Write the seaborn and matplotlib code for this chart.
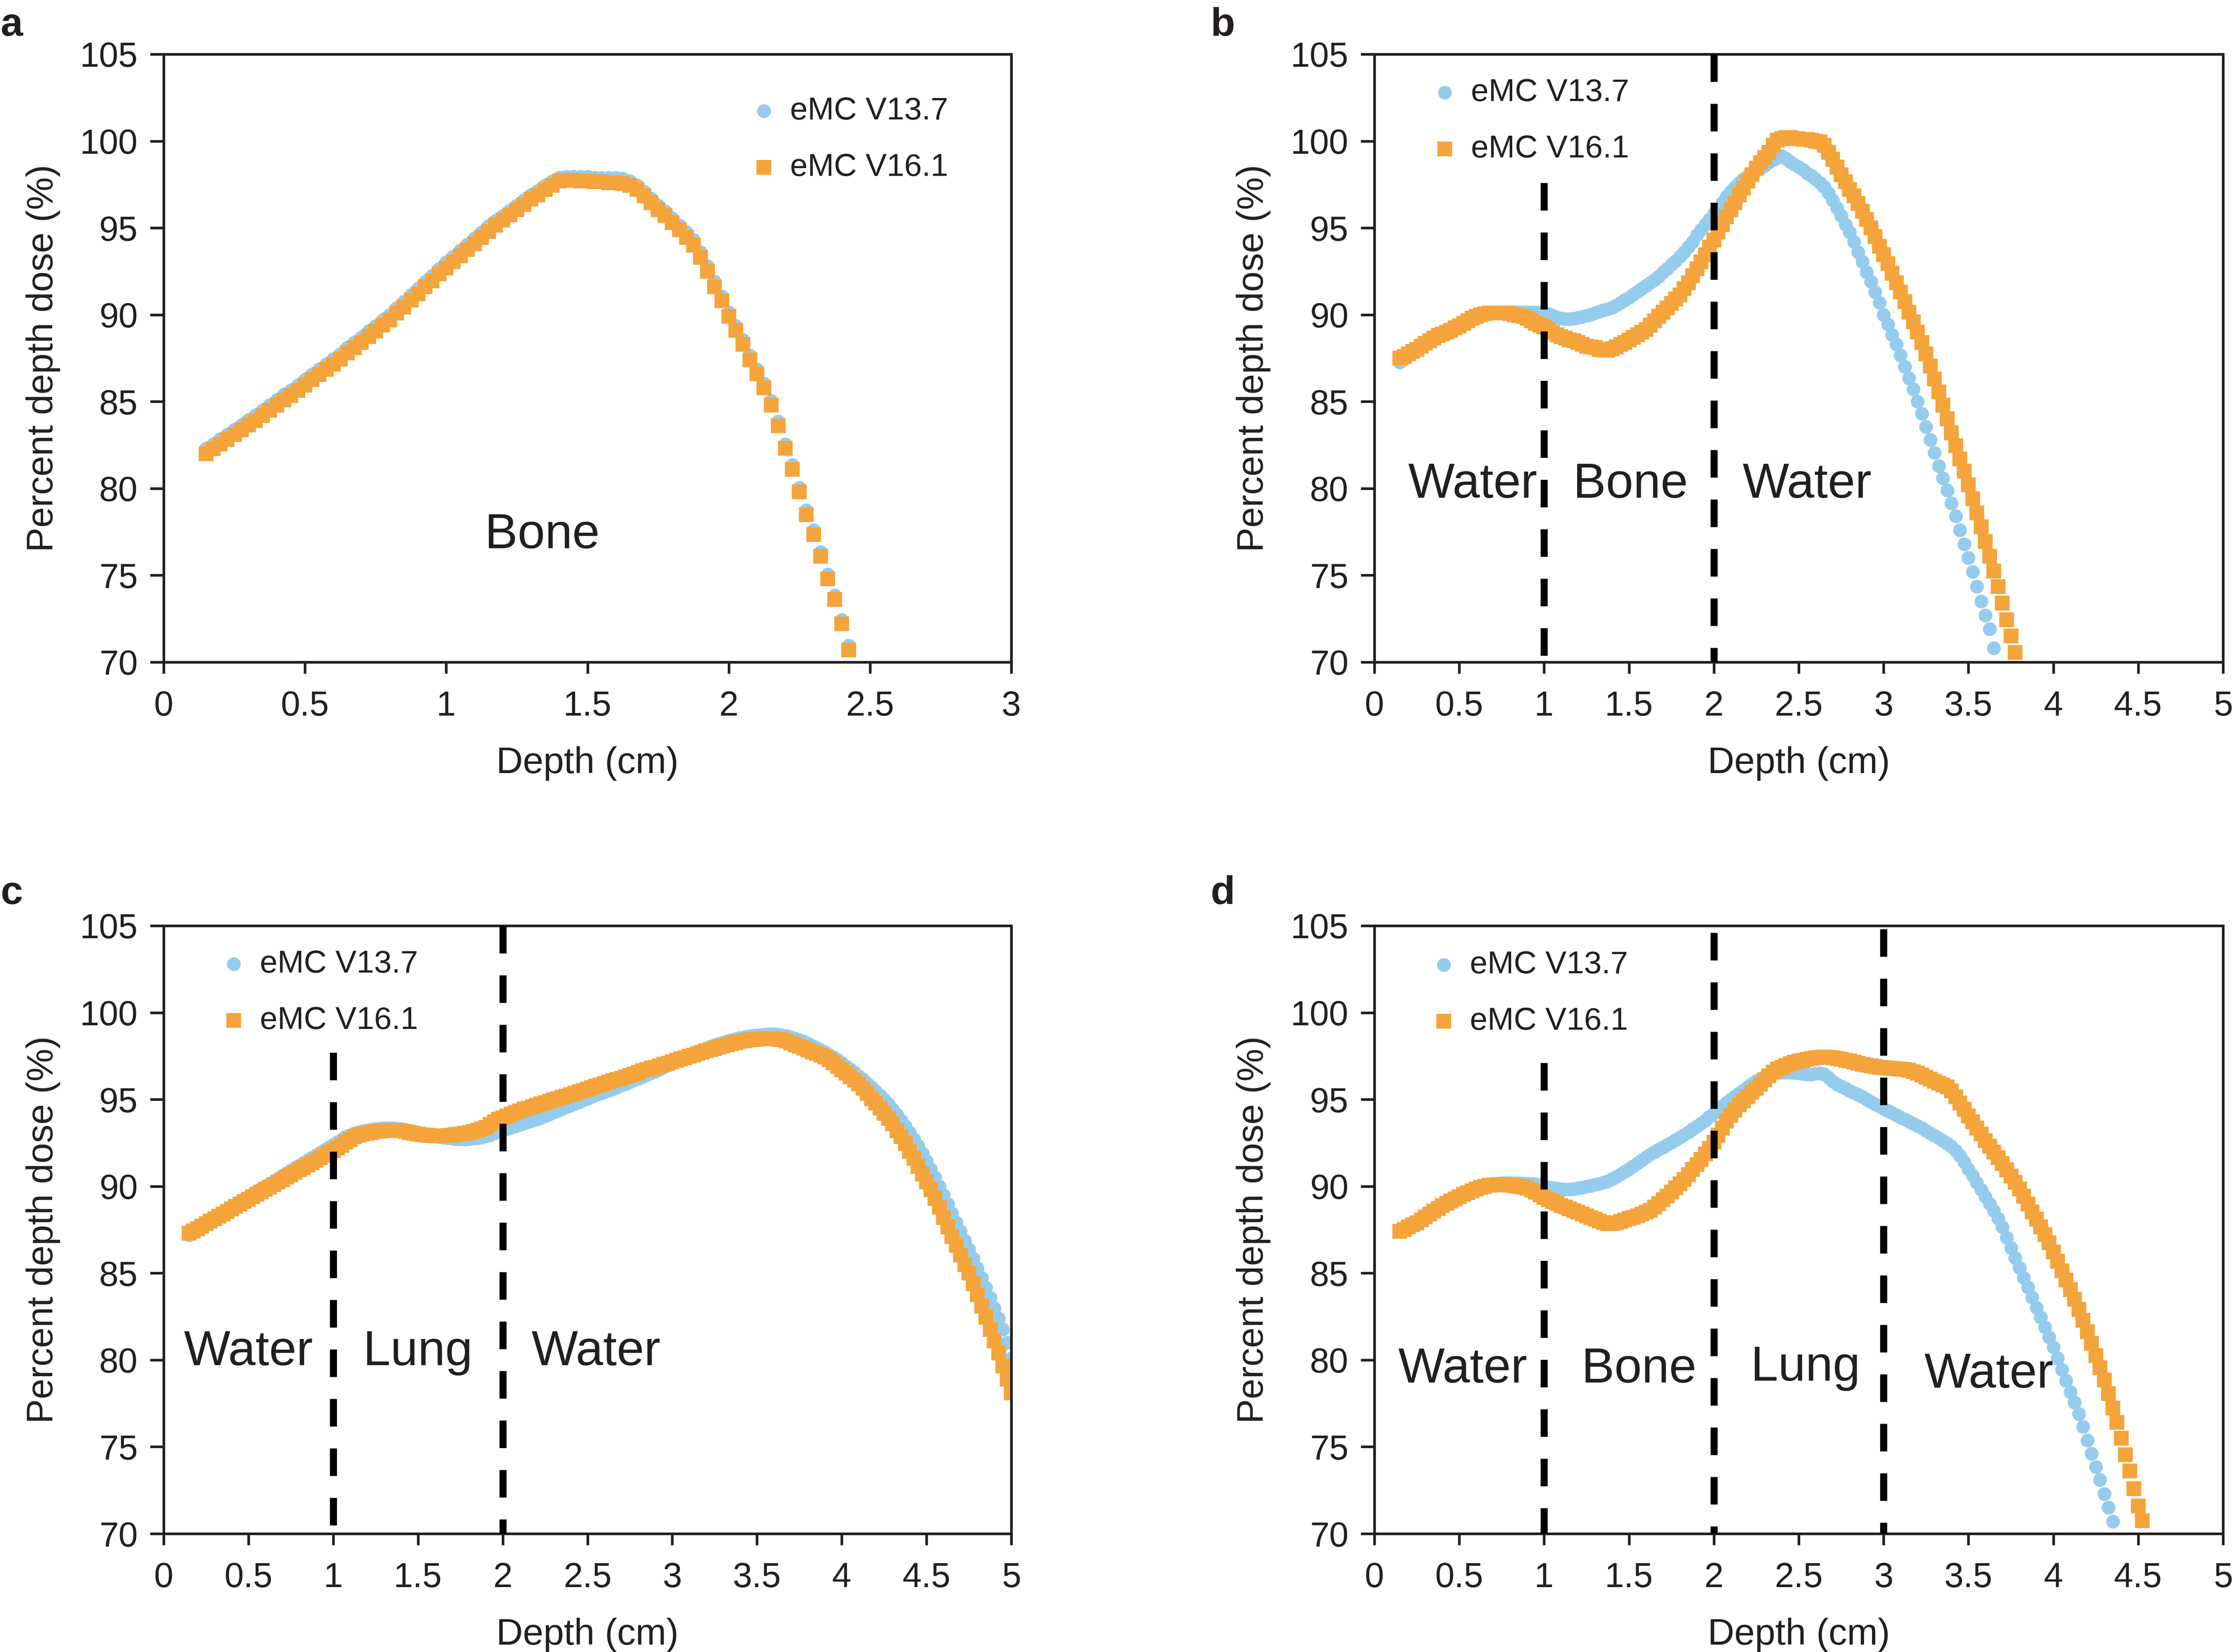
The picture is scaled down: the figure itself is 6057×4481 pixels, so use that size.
import numpy as np
import seaborn as sns
import matplotlib.pyplot as plt
from matplotlib.ticker import MultipleLocator, FuncFormatter

# depth grid (cm): every curve starts at 0.15 cm with 0.025 cm spacing
START = 0.15
STEP = 0.025

# ---- panel a : bone ----
a_v137 = [82.3, 82.55, 82.85, 83.1, 83.4, 83.65, 83.95, 84.2, 84.5, 84.8,
          85.1, 85.4, 85.65, 85.95, 86.25, 86.55, 86.85, 87.15, 87.45, 87.75,
          88.1, 88.4, 88.7, 89.05, 89.35, 89.7, 90.0, 90.4, 90.75, 91.15,
          91.5, 91.9, 92.25, 92.65, 93.0, 93.35, 93.7, 94.05, 94.4, 94.75,
          95.1, 95.4, 95.7, 96.0, 96.3, 96.6, 96.9, 97.15, 97.45, 97.7,
          97.9, 97.95, 97.95, 97.95, 97.95, 97.9, 97.9, 97.9, 97.9, 97.85,
          97.7, 97.45, 97.1, 96.7, 96.3, 95.95, 95.55, 95.15, 94.75, 94.3,
          93.6, 92.8, 91.9, 91.05, 90.15, 89.35, 88.55, 87.65, 86.85, 86.05,
          85.05, 83.85, 82.55, 81.35, 80.05, 78.75, 77.6, 76.35, 75.05, 73.85,
          72.45, 70.95]
a_v161 = [82.0, 82.28, 82.55, 82.83, 83.1, 83.38, 83.65, 83.9, 84.2, 84.5,
          84.8, 85.1, 85.35, 85.65, 85.95, 86.25, 86.55, 86.85, 87.15, 87.45,
          87.8, 88.1, 88.4, 88.75, 89.05, 89.4, 89.7, 90.1, 90.45, 90.85,
          91.2, 91.6, 91.95, 92.35, 92.7, 93.05, 93.4, 93.75, 94.1, 94.45,
          94.8, 95.15, 95.45, 95.75, 96.05, 96.35, 96.65, 96.9, 97.2, 97.45,
          97.7, 97.75, 97.75, 97.7, 97.7, 97.65, 97.65, 97.6, 97.6, 97.55,
          97.45, 97.2, 96.85, 96.45, 96.05, 95.7, 95.3, 94.9, 94.45, 94.0,
          93.3, 92.5, 91.6, 90.8, 89.9, 89.1, 88.3, 87.4, 86.6, 85.8,
          84.8, 83.6, 82.3, 81.1, 79.8, 78.5, 77.35, 76.1, 74.8, 73.6,
          72.2, 70.7]

# ---- panel b : water / bone / water ----
b_v137 = [87.25, 87.45, 87.7, 87.9, 88.05, 88.2, 88.35, 88.5, 88.65, 88.8,
          88.9, 89.0, 89.1, 89.25, 89.4, 89.5, 89.65, 89.8, 89.9, 90.0,
          90.1, 90.15, 90.15, 90.15, 90.15, 90.15, 90.15, 90.15, 90.15, 90.15,
          90.15, 90.15, 90.15, 90.15, 90.15, 90.05, 89.95, 89.85, 89.8, 89.75,
          89.75, 89.78, 89.83, 89.88, 89.95, 90.02, 90.1, 90.18, 90.26, 90.34,
          90.42, 90.55, 90.7, 90.85, 91.0, 91.17, 91.34, 91.51, 91.68, 91.83,
          92.0, 92.2, 92.45, 92.65, 92.9, 93.1, 93.35, 93.6, 93.9, 94.2,
          94.6, 94.9, 95.2, 95.5, 95.8, 96.1, 96.45, 96.8, 97.1, 97.35,
          97.6, 97.8, 98.0, 98.15, 98.3, 98.45, 98.6, 98.75, 98.9, 99.05,
          99.15, 99.0, 98.8, 98.65, 98.5, 98.35, 98.15, 98.0, 97.8, 97.6,
          97.35, 97.0, 96.6, 96.15, 95.7, 95.2, 94.75, 94.2, 93.6, 93.05,
          92.45, 91.9, 91.3, 90.7, 90.0, 89.45, 88.85, 88.3, 87.65, 87.0,
          86.35, 85.7, 85.0, 84.3, 83.55, 82.8, 82.05, 81.3, 80.6, 79.9,
          79.15, 78.4, 77.6, 76.8, 76.0, 75.2, 74.35, 73.5, 72.7, 71.9,
          70.8]
b_v161 = [87.5, 87.6, 87.75, 87.9, 88.0, 88.2, 88.35, 88.5, 88.65, 88.8,
          88.9, 89.0, 89.1, 89.25, 89.35, 89.5, 89.65, 89.8, 89.9, 90.0,
          90.05, 90.1, 90.1, 90.1, 90.1, 90.1, 90.05, 90.0, 89.95, 89.9,
          89.8, 89.65, 89.5, 89.4, 89.3, 89.15, 89.0, 88.85, 88.75, 88.65,
          88.55, 88.5, 88.4, 88.3, 88.2, 88.15, 88.1, 88.0, 87.95, 87.95,
          88.05, 88.15, 88.3, 88.4, 88.55, 88.7, 88.85, 89.0, 89.15, 89.4,
          89.65, 89.9, 90.15, 90.4, 90.65, 90.9, 91.15, 91.5, 91.85, 92.25,
          92.65, 93.05, 93.45, 93.9, 94.3, 94.75, 95.2, 95.65, 96.05, 96.45,
          96.9, 97.3, 97.7, 98.05, 98.45, 98.75, 99.05, 99.35, 99.75, 100.05,
          100.15, 100.2, 100.2, 100.15, 100.15, 100.1, 100.1, 100.05, 100.0, 99.95,
          99.75, 99.35, 98.95, 98.5, 98.05, 97.65, 97.2, 96.85, 96.4, 95.95,
          95.5, 95.0, 94.5, 93.95, 93.45, 92.95, 92.4, 91.85, 91.3, 90.75,
          90.15, 89.6, 89.0, 88.4, 87.75, 87.05, 86.3, 85.55, 84.8, 84.0,
          83.2, 82.45, 81.7, 81.0, 80.2, 79.4, 78.6, 77.8, 76.95, 76.1,
          75.25, 74.35, 73.4, 72.45, 71.5, 70.55]

# ---- panel c : water / lung / water ----
c_v137 = [87.2, 87.4, 87.58, 87.74, 87.9, 88.05, 88.2, 88.35, 88.5, 88.65,
          88.8, 88.95, 89.1, 89.25, 89.4, 89.55, 89.7, 89.85, 90.0, 90.15,
          90.3, 90.45, 90.6, 90.75, 90.9, 91.05, 91.2, 91.35, 91.5, 91.65,
          91.8, 91.95, 92.1, 92.25, 92.4, 92.55, 92.7, 92.85, 92.95, 93.05,
          93.12, 93.17, 93.22, 93.26, 93.3, 93.33, 93.35, 93.35, 93.34, 93.32,
          93.3, 93.25, 93.2, 93.15, 93.1, 93.05, 93.0, 92.95, 92.9, 92.85,
          92.8, 92.77, 92.75, 92.72, 92.72, 92.72, 92.73, 92.75, 92.78, 92.82,
          92.88, 92.95, 93.05, 93.15, 93.22, 93.3, 93.38, 93.46, 93.54, 93.62,
          93.7, 93.78, 93.86, 93.95, 94.05, 94.15, 94.25, 94.35, 94.45, 94.55,
          94.65, 94.75, 94.85, 94.95, 95.05, 95.15, 95.25, 95.34, 95.43, 95.52,
          95.6, 95.7, 95.8, 95.9, 96.0, 96.1, 96.2, 96.3, 96.4, 96.5,
          96.6, 96.72, 96.84, 96.96, 97.08, 97.2, 97.32, 97.44, 97.55, 97.65,
          97.75, 97.85, 97.94, 98.03, 98.12, 98.2, 98.28, 98.35, 98.42, 98.48,
          98.54, 98.59, 98.63, 98.67, 98.7, 98.72, 98.74, 98.75, 98.75, 98.74,
          98.7, 98.65, 98.58, 98.5, 98.42, 98.33, 98.22, 98.1, 97.98, 97.85,
          97.72, 97.58, 97.44, 97.28, 97.1, 96.92, 96.74, 96.55, 96.35, 96.14,
          95.92, 95.7, 95.47, 95.23, 94.98, 94.72, 94.44, 94.13, 93.8, 93.45,
          93.1, 92.72, 92.32, 91.9, 91.45, 90.98, 90.5, 90.0, 89.5, 88.98,
          88.45, 87.92, 87.4, 86.88, 86.36, 85.83, 85.28, 84.72, 84.15, 83.58,
          83.0, 82.4, 81.75, 81.0, 80.1]
c_v161 = [87.3, 87.42, 87.55, 87.7, 87.85, 87.99, 88.13, 88.27, 88.41, 88.55,
          88.7, 88.84, 88.98, 89.12, 89.26, 89.4, 89.54, 89.68, 89.82, 89.96,
          90.1, 90.24, 90.38, 90.52, 90.66, 90.8, 90.94, 91.08, 91.22, 91.36,
          91.5, 91.64, 91.78, 91.92, 92.06, 92.2, 92.35, 92.55, 92.7, 92.85,
          92.95, 93.0, 93.05, 93.1, 93.15, 93.18, 93.2, 93.22, 93.23, 93.22,
          93.2, 93.15, 93.1, 93.05, 93.0, 92.97, 92.95, 92.92, 92.9, 92.9,
          92.9, 92.92, 92.95, 92.98, 93.0, 93.05, 93.1, 93.15, 93.22, 93.3,
          93.4, 93.55, 93.7, 93.85, 93.95, 94.05, 94.15, 94.25, 94.35, 94.45,
          94.5, 94.58, 94.66, 94.74, 94.82, 94.9, 94.98, 95.05, 95.12, 95.2,
          95.28, 95.36, 95.44, 95.52, 95.6, 95.68, 95.76, 95.84, 95.92, 96.0,
          96.08, 96.15, 96.22, 96.3, 96.38, 96.47, 96.56, 96.65, 96.73, 96.8,
          96.85, 96.93, 97.01, 97.09, 97.17, 97.25, 97.33, 97.41, 97.48, 97.56,
          97.64, 97.72, 97.8, 97.87, 97.94, 98.01, 98.08, 98.15, 98.21, 98.27,
          98.33, 98.38, 98.42, 98.45, 98.47, 98.49, 98.5, 98.5, 98.48, 98.46,
          98.42, 98.35, 98.25, 98.15, 98.05, 97.95, 97.85, 97.75, 97.65, 97.55,
          97.45, 97.3, 97.1, 96.9, 96.7, 96.5, 96.3, 96.1, 95.9, 95.65,
          95.35, 95.05, 94.8, 94.5, 94.2, 93.9, 93.6, 93.2, 92.85, 92.45,
          92.0, 91.6, 91.15, 90.7, 90.25, 89.8, 89.3, 88.8, 88.2, 87.65,
          87.1, 86.6, 86.05, 85.5, 85.0, 84.4, 83.75, 83.1, 82.45, 81.75,
          81.1, 80.4, 79.65, 78.9, 78.1]

# ---- panel d : water / bone / lung / water ----
d_v137 = [87.45, 87.58, 87.71, 87.84, 87.97, 88.13, 88.3, 88.46, 88.63, 88.8,
          88.96, 89.09, 89.22, 89.35, 89.47, 89.59, 89.7, 89.81, 89.92, 90.0,
          90.07, 90.12, 90.15, 90.17, 90.18, 90.18, 90.18, 90.18, 90.18, 90.17,
          90.17, 90.15, 90.12, 90.08, 90.02, 89.96, 89.9, 89.86, 89.84, 89.83,
          89.83, 89.85, 89.89, 89.94, 89.99, 90.04, 90.09, 90.15, 90.22, 90.3,
          90.42, 90.55, 90.7, 90.85, 91.0, 91.17, 91.34, 91.51, 91.68, 91.83,
          91.97, 92.11, 92.25, 92.39, 92.53, 92.67, 92.81, 92.96, 93.12, 93.28,
          93.45, 93.62, 93.8, 94.0, 94.2, 94.42, 94.62, 94.82, 95.0, 95.18,
          95.36, 95.54, 95.72, 95.9, 96.06, 96.2, 96.32, 96.42, 96.5, 96.54,
          96.56, 96.56, 96.55, 96.53, 96.5, 96.47, 96.45, 96.45, 96.48, 96.5,
          96.45, 96.25, 96.05, 95.88, 95.75, 95.63, 95.5, 95.38, 95.27, 95.16,
          95.0, 94.85, 94.72, 94.6, 94.47, 94.35, 94.22, 94.1, 93.97, 93.85,
          93.72, 93.6, 93.47, 93.34, 93.2, 93.06, 92.92, 92.78, 92.62, 92.45,
          92.28, 92.05, 91.75, 91.4, 91.0, 90.6, 90.2, 89.8, 89.4, 89.0,
          88.6, 88.15, 87.65, 87.05, 86.45, 85.88, 85.3, 84.74, 84.17, 83.6,
          83.02, 82.45, 81.88, 81.31, 80.74, 80.1, 79.45, 78.8, 78.15, 77.55,
          76.9, 76.15, 75.38, 74.6, 73.85, 73.1, 72.3, 71.5, 70.7]
d_v161 = [87.4, 87.52, 87.65, 87.78, 87.9, 88.07, 88.24, 88.4, 88.57, 88.73,
          88.9, 89.02, 89.15, 89.28, 89.4, 89.52, 89.63, 89.74, 89.85, 89.93,
          90.0, 90.05, 90.08, 90.1, 90.1, 90.08, 90.06, 90.03, 90.0, 89.95,
          89.88, 89.78, 89.65, 89.5, 89.35, 89.24, 89.13, 89.02, 88.9, 88.8,
          88.7, 88.6, 88.5, 88.4, 88.3, 88.2, 88.1, 88.0, 87.92, 87.85,
          87.85, 87.9, 87.98, 88.06, 88.14, 88.22, 88.3, 88.4, 88.5, 88.62,
          88.8, 89.0, 89.22, 89.44, 89.67, 89.9, 90.14, 90.4, 90.68, 90.96,
          91.25, 91.55, 91.86, 92.18, 92.55, 92.95, 93.35, 93.75, 94.08, 94.38,
          94.68, 94.92, 95.16, 95.4, 95.64, 95.88, 96.12, 96.36, 96.58, 96.74,
          96.86, 96.96, 97.06, 97.14, 97.2, 97.26, 97.31, 97.36, 97.4, 97.43,
          97.44, 97.43, 97.4, 97.36, 97.31, 97.26, 97.2, 97.14, 97.08, 97.02,
          96.97, 96.93, 96.9, 96.86, 96.82, 96.8, 96.78, 96.76, 96.74, 96.72,
          96.68, 96.6, 96.5, 96.4, 96.28, 96.16, 96.05, 95.94, 95.83, 95.72,
          95.5, 95.15, 94.8, 94.42, 94.05, 93.7, 93.35, 93.0, 92.62, 92.3,
          91.97, 91.64, 91.3, 90.94, 90.58, 90.22, 89.84, 89.42, 88.98, 88.54,
          88.1, 87.66, 87.22, 86.74, 86.22, 85.68, 85.14, 84.6, 84.06, 83.5,
          82.9, 82.28, 81.64, 80.96, 80.26, 79.56, 78.86, 78.06, 77.24, 76.42,
          75.5, 74.55, 73.6, 72.6, 71.6, 70.75]

# region names shown in each panel
a_regions = ['Bone']
b_regions = ['Water', 'Bone', 'Water']
c_regions = ['Water', 'Lung', 'Water']
d_regions = ['Water', 'Bone', 'Lung', 'Water']
a_xmax, b_xmax, c_xmax, d_xmax = 3, 5, 5, 5

BLUE = '#95ccee'
ORANGE = '#f4a43b'
INK = '#231f20'


def depth(vals):
    return START + STEP * np.arange(len(vals))


sns.set_theme(style='ticks')
plt.rcParams['font.family'] = ['Liberation Sans', 'DejaVu Sans']
plt.rcParams['text.color'] = INK
plt.rcParams['axes.labelcolor'] = INK
plt.rcParams['xtick.color'] = INK
plt.rcParams['ytick.color'] = INK

W, H = 6058, 4481
fig = plt.figure(figsize=(W / 600, H / 600), dpi=600)


def px_axes(left, top, right, bottom):
    return fig.add_axes([left / W, 1 - bottom / H, (right - left) / W, (bottom - top) / H])


def draw_panel(ax, v137, v161, xmax, regions, bounds, legend_xy):
    sns.scatterplot(x=depth(v137), y=v137, ax=ax, marker='o', s=20, color=BLUE,
                    linewidth=0, label='eMC V13.7', zorder=2)
    sns.scatterplot(x=depth(v161), y=v161, ax=ax, marker='s', s=23, color=ORANGE,
                    linewidth=0, label='eMC V16.1', zorder=2.1)

    # medium boundaries
    for xb, ytop in bounds:
        ax.plot([xb, xb], [ytop, 70], color='black', lw=2.3,
                dashes=(3.9, 3.1), zorder=4, solid_capstyle='butt')

    for name, (xt, yt) in regions:
        ax.text(xt, yt, name, fontsize=16, ha='center', va='baseline', zorder=5)

    ax.set_xlim(0, xmax)
    ax.set_ylim(70, 105)
    ax.xaxis.set_major_locator(MultipleLocator(0.5))
    ax.yaxis.set_major_locator(MultipleLocator(5))
    fmt = FuncFormatter(lambda v, p: f'{v:g}')
    ax.xaxis.set_major_formatter(fmt)
    ax.yaxis.set_major_formatter(fmt)
    ax.tick_params(axis='x', direction='out', length=3.7, width=0.85, pad=5.4, labelsize=11.3)
    ax.tick_params(axis='y', direction='out', length=4.4, width=0.85, pad=4, labelsize=11.3)
    for sp in ax.spines.values():
        sp.set_visible(True)
        sp.set_linewidth(0.85)
        sp.set_color(INK)

    ax.set_xlabel('Depth (cm)', fontsize=12)
    ax.set_ylabel('Percent depth dose (%)', fontsize=12)
    ax.xaxis.set_label_coords(0.5, -0.138)
    ax.yaxis.set_label_coords(-0.122, 0.5)

    ax.legend(loc='upper left', bbox_to_anchor=(legend_xy[0] / W, 1 - legend_xy[1] / H),
              bbox_transform=fig.transFigure, frameon=False, fontsize=10.3,
              handlelength=1.0, handletextpad=0.33, labelspacing=0.85,
              borderpad=0, borderaxespad=0)


ax_a = px_axes(444, 147, 2743, 1796)
ax_b = px_axes(3728, 147, 6030, 1796)
ax_c = px_axes(444, 2511, 2743, 4160)
ax_d = px_axes(3728, 2511, 6030, 4160)

draw_panel(ax_a, a_v137, a_v161, a_xmax,
           zip(a_regions, [(1.34, 76.55)]), [], (2029, 262))
draw_panel(ax_b, b_v137, b_v161, b_xmax,
           zip(b_regions, [(0.58, 79.46), (1.51, 79.46), (2.55, 79.46)]),
           [(1, 97.6), (2, 105)], (3876, 212))
draw_panel(ax_c, c_v137, c_v161, c_xmax,
           zip(c_regions, [(0.5, 79.7), (1.5, 79.7), (2.55, 79.7)]),
           [(1, 97.7), (2, 105)], (591, 2576))
draw_panel(ax_d, d_v137, d_v161, d_xmax,
           zip(d_regions, [(0.52, 78.7), (1.56, 78.7), (2.54, 78.8), (3.62, 78.4)]),
           [(1, 97.1), (2, 104.6), (3, 104.8)], (3873, 2578))

for letter, (lx, ly) in zip('abcd', [(2, 97), (3284, 97), (2, 2452), (3284, 2452)]):
    fig.text(lx / W, 1 - ly / H, letter, fontsize=13, fontweight='bold',
             ha='left', va='baseline')

fig.savefig('out.png', dpi=600)
